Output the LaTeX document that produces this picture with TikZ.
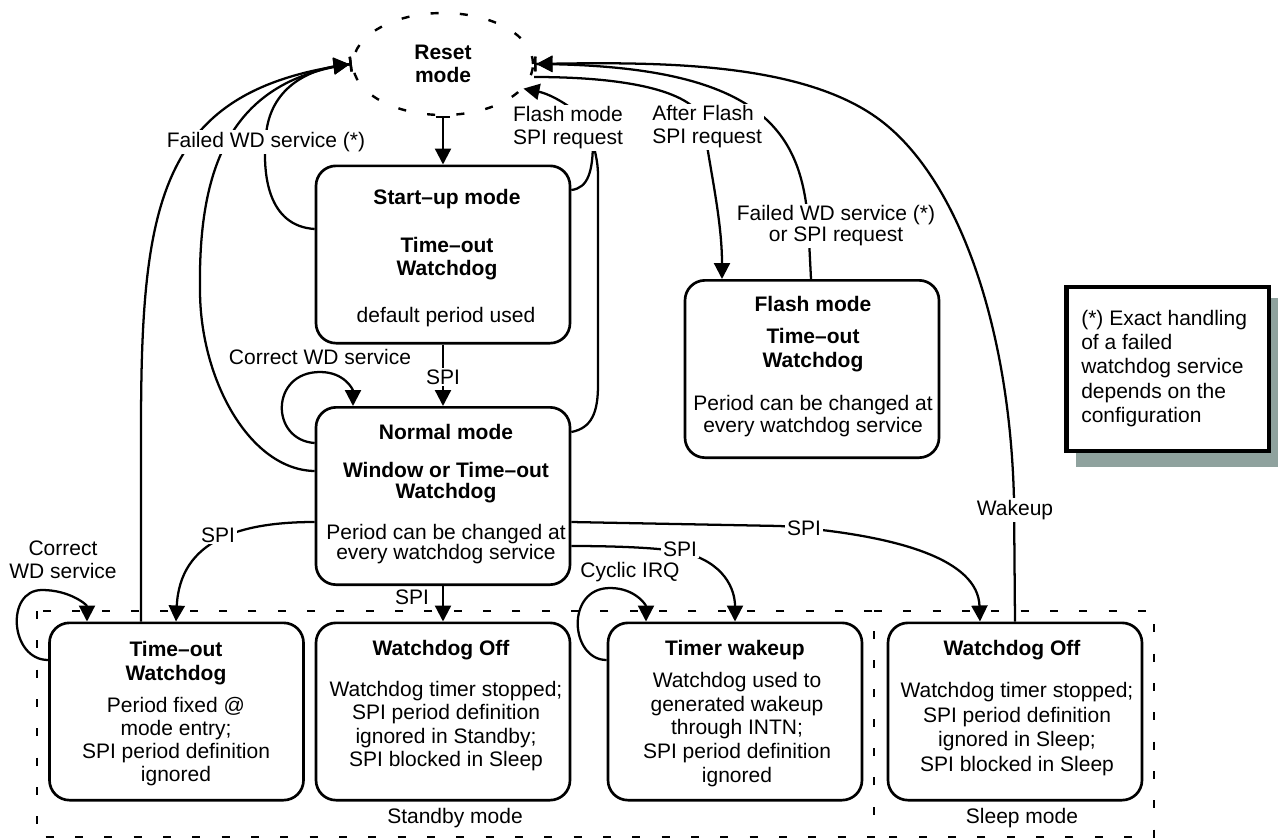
\documentclass[tikz,border=0pt]{standalone}
\usepackage{fontspec}
\setmainfont{Liberation Sans}
\usetikzlibrary{arrows.meta,shapes.geometric}
\definecolor{shadowc}{RGB}{143,162,158}
\begin{document}
\begin{tikzpicture}[x=0.75pt,y=-0.75pt,
  font=\fontsize{15.75}{17.25}\selectfont,
  state/.style={draw, line width=2pt, rounded corners=15pt, minimum width=190.5pt, minimum height=133pt, inner sep=0pt},
  txt/.style={align=center, inner sep=0pt},
  ttl/.style={txt, font=\fontsize{15.75}{17.25}\selectfont\bfseries},
  lbl/.style={fill=white, inner sep=1.5pt, align=center},
  conn/.style={line width=1.7pt},
  arr/.style={conn, -{Triangle[length=12pt,width=12pt]}},
  barr/.style={conn, -{Triangle[length=12pt,width=12pt]Bar[width=11pt,sep=0pt]}},
  region/.style={line width=2pt, dash pattern=on 6pt off 16pt},
]
\useasboundingbox (0,0) rectangle (1278,839);

% regions
\draw[region] (37,611) rectangle (874,837);
\draw[region] (874,611) -- (1154,611) -- (1154,837) -- (874,837);
\node[txt] (standbylbl) at (455,818) {Standby mode};
\node[txt] (sleeplbl) at (1022,818) {Sleep mode};

% note
\fill[shadowc] (1076,298) rectangle (1290,467);
\node[draw, line width=3.5pt, fill=white, minimum width=152pt, minimum height=123pt, inner sep=0pt] (note) at (1167.5,369) {};
\node[txt, align=left, anchor=west, font=\fontsize{15.75}{18.2}\selectfont] (notetext) at (1081,368.5) {(*) Exact handling\\of a failed\\watchdog service\\depends on the\\configuration};

% states
\node[ellipse, draw, line width=1.8pt, dash pattern=on 6pt off 16pt, minimum width=135pt, minimum height=76.5pt, inner sep=0pt, align=center, font=\fontsize{15.75}{17.25}\selectfont\bfseries] (reset) at (443,64) {Reset\\mode};

\node[state] (startup) at (443,254.5) {};
\node[ttl] (startupA) at (447,199) {Start–up mode};
\node[ttl] (startupB) at (447,258.5) {Time–out\\Watchdog};
\node[txt] (startupC) at (446,317) {default period used};

\node[state] (normal) at (443,496) {};
\node[ttl] (normalA) at (446,432) {Normal mode};
\node[ttl, font=\fontsize{15.75}{15.75}\selectfont\bfseries] (normalB) at (446,482.5) {Window or Time–out\\Watchdog};
\node[txt, font=\fontsize{15.75}{15}\selectfont] (normalC) at (446,544.5) {Period can be changed at\\every watchdog service};

\node[state] (flash) at (812,369) {};
\node[ttl] (flashA) at (813,304) {Flash mode};
\node[ttl, font=\fontsize{15.75}{18}\selectfont\bfseries] (flashB) at (813,350) {Time–out\\Watchdog};
\node[txt, font=\fontsize{15.75}{16.5}\selectfont] (flashC) at (813,416) {Period can be changed at\\every watchdog service};

\node[state] (towd) at (176.5,711.5) {};
\node[ttl, font=\fontsize{15.75}{18}\selectfont\bfseries] (towdA) at (176,663) {Time–out\\Watchdog};
\node[txt] (towdB) at (176,741.5) {Period fixed @\\mode entry;\\SPI period definition\\ignored};

\node[state] (wdoffA) at (443,711.5) {};
\node[ttl] (wdoffAt) at (441,650) {Watchdog Off};
\node[txt, font=\fontsize{15.75}{17.5}\selectfont] (wdoffAb) at (446,726) {Watchdog timer stopped;\\SPI period definition\\ignored in Standby;\\SPI blocked in Sleep};

\node[state] (timer) at (735,711.5) {};
\node[ttl] (timert) at (735,650) {Timer wakeup};
\node[txt, font=\fontsize{15.75}{17.8}\selectfont] (timerb) at (737,729.5) {Watchdog used to\\generated wakeup\\through INTN;\\SPI period definition\\ignored};

\node[state] (wdoffB) at (1015,711.5) {};
\node[ttl] (wdoffBt) at (1012,650) {Watchdog Off};
\node[txt, font=\fontsize{15.75}{18.5}\selectfont] (wdoffBb) at (1017,729) {Watchdog timer stopped;\\SPI period definition\\ignored in Sleep;\\SPI blocked in Sleep};

% connectors
\draw[conn, {Bar[width=11pt]}-{Triangle[length=12pt,width=12pt]}] (reset.south) -- (startup.north);
\draw[arr] (startup.south) -- (normal.north);
\draw[arr] (normal.south) -- (wdoffA.north);

% failed WD service to reset (left)
\draw[barr] (startup.west |- 0,229) .. controls (268,226) and (262,175) .. (266,135) .. controls (270,90) and (305,68) .. (reset.west);
\draw[barr] (normal.west |- 0,471) .. controls (250,470) and (200,380) .. (200,290) .. controls (198,160) and (235,80) .. (reset.west);
\draw[barr] (towd.north -| 141,0) -- (141,430) .. controls (141,200) and (160,90) .. (reset.west);

% flash mode SPI request
\coordinate (fmj) at (593,140);
\draw[conn] (startup.east |- 0,190) .. controls (588,188) and (593,172) .. (fmj);
\draw[conn] (normal.east |- 0,432) .. controls (592,428) and (598,412) .. (598,385) -- (598,175) .. controls (598,160) and (594,150) .. (fmj);
\draw[arr] (fmj) .. controls (593,118) and (555,95) .. (reset.-17);

% after flash
\draw[arr] (reset.east |- 0,77) .. controls (640,77) and (700,95) .. (704,125) .. controls (710,170) and (722,220) .. (flash.north -| 722,0);

% flash failed
\draw[barr] (flash.north -| 811,0) -- (808,220) .. controls (800,130) and (760,65) .. (reset.east);

% wakeup
\draw[barr] (wdoffB.north) -- (1014,500) .. controls (1010,330) and (960,180) .. (880,120) .. controls (800,60) and (650,62) .. (reset.east);

% normal to standby/sleep
\draw[arr] (normal.east |- 0,522) -- (780,526) .. controls (900,535) and (978,560) .. (wdoffB.north -| 980,0);
\draw[arr] (normal.east |- 0,546) .. controls (620,546) and (660,548) .. (682,552) .. controls (725,562) and (735,590) .. (timer.north);
\draw[arr] (normal.west |- 0,522) .. controls (240,522) and (180,540) .. (towd.north -| 176,0);

% self loops
\draw[arr] (normal.west |- 0,443) .. controls (270,440) and (270,372) .. (320,372) .. controls (345,372) and (353,390) .. (normal.north -| 353,0);
\draw[arr] (towd.west |- 0,660) .. controls (10,660) and (5,590) .. (42,590) .. controls (70,590) and (87,605) .. (towd.north -| 87,0);
\draw[arr] (timer.west |- 0,660) .. controls (570,660) and (565,588) .. (610,588) .. controls (635,588) and (646,605) .. (timer.north -| 646,0);

% labels
\node[lbl] (l1) at (266,142) {Failed WD service (*)};
\node[lbl] (l2) at (568,128) {Flash mode\\SPI request};
\node[lbl, align=left, anchor=west] (l3) at (650,127) {After Flash\\SPI request};
\node[lbl, font=\fontsize{15.75}{15.75}\selectfont] (l4) at (836,226) {Failed WD service (*)\\or SPI request};
\node[lbl] (l5) at (1015,510) {Wakeup};
\node[lbl] (l6) at (443,377) {SPI};
\node[lbl] (l7) at (412,597) {SPI};
\node[lbl] (l8) at (320,357) {Correct WD service};
\node[lbl] (l9) at (63,560) {Correct\\WD service};
\node[lbl] (l10) at (630,572) {Cyclic IRQ};
\node[lbl] (l11) at (218,535) {SPI};
\node[lbl] (l12) at (680,549) {SPI};
\node[lbl] (l13) at (804,528) {SPI};
\end{tikzpicture}
\end{document}
